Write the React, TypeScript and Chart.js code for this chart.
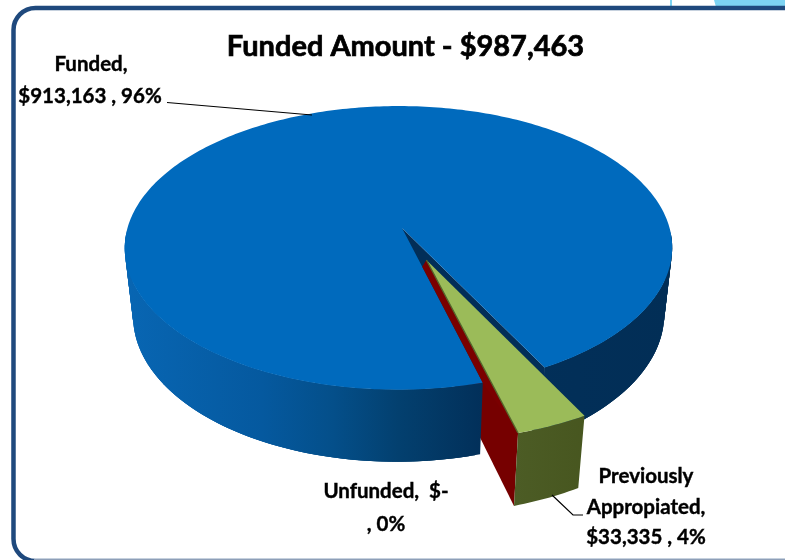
import React, { useEffect, useRef } from "react";
import { Chart, registerables } from "chart.js";

Chart.register(...registerables);

const categories = ["Funded", "Previously Appropiated", "Unfunded"];
const amounts = [913163, 33335, 0];
const explode = [0, 0.24, 0.24];
const wedgeScale = [1, 1.04, 1.04];
const titleText = "Funded Amount - $987,463";
const fundedLabel = ["Funded,", "$913,163 , 96%"];
const unfundedLabel = ["Unfunded,  $-", ", 0%"];
const previousLabel = ["Previously", "Appropiated,", "$33,335 , 4%"];
const FONT = "Lato, 'Open Sans', sans-serif";

const cam = { cx: 402, cy: 228, a: 271, b: 139, h: 69, k: 0.14, m: -0.0128, n: 0.03 };
const rad = (d: number) => (d * Math.PI) / 180;

function project(u: number, v: number, z: number): [number, number] {
  const d = 1 - cam.k * v - cam.m * u + cam.n * z;
  return [cam.cx + (cam.a * u) / d, cam.cy + (cam.b * v + cam.h * z) / d];
}

function poly(ctx: CanvasRenderingContext2D, pts: [number, number][], fill: any) {
  ctx.beginPath();
  pts.forEach((p, i) => (i ? ctx.lineTo(p[0], p[1]) : ctx.moveTo(p[0], p[1])));
  ctx.closePath();
  ctx.fillStyle = fill;
  ctx.fill();
}

function arcAngles(start: number, end: number) {
  const out: number[] = [];
  const n = Math.max(2, Math.ceil(Math.abs(end - start) / rad(1)));
  for (let i = 0; i <= n; i++) out.push(start + ((end - start) * i) / n);
  return out;
}

const pie3d = {
  id: "pie3d",
  beforeDatasetDraw(chart: any) {
    const ctx: CanvasRenderingContext2D = chart.ctx;
    const arcs = chart.getDatasetMeta(0).data.map((el: any) => el.getProps(["startAngle", "endAngle"], true));
    const at = (i: number) => {
      const s = arcs[i].startAngle;
      const e = arcs[i].endAngle;
      const mid = (arcs[1].startAngle + arcs[1].endAngle) / 2;
      return { s, e, ox: explode[i] * Math.cos(mid), oy: explode[i] * Math.sin(mid), r: wedgeScale[i] };
    };
    const rim = (a: number, sl: { ox: number; oy: number; r: number }, z: number) =>
      project(sl.r * Math.cos(a) + sl.ox, sl.r * Math.sin(a) + sl.oy, z);

    const blue = at(0);
    const green = at(1);
    const red = at(2);

    // red cut face of the pulled-out wedge
    poly(ctx, [rim(red.e, red, 0), rim(red.e, red, 1), project(red.ox, red.oy, 1), project(red.ox, red.oy, 0)], "#760000");

    // blue cut face
    poly(ctx, [project(0, 0, 0), rim(blue.e, blue, 0), rim(blue.e, blue, 1), project(0, 0, 1)], "#022e58");

    // blue wall: overlapping quads on the side facing the viewer only
    const wall = ctx.createLinearGradient(125, 0, 672, 0);
    wall.addColorStop(0, "#0866b3");
    wall.addColorStop(0.25, "#05599f");
    wall.addColorStop(0.38, "#044f8a");
    wall.addColorStop(0.5, "#03406f");
    wall.addColorStop(0.65, "#02305a");
    wall.addColorStop(1, "#022e56");
    const bl = arcAngles(blue.s, blue.e);
    for (let i = 0; i < bl.length - 1; i++) {
      const a0 = bl[i];
      const a1 = bl[Math.min(i + 3, bl.length - 1)];
      if (Math.sin(a0) < 0.02 || Math.sin(a1) < 0.02) continue;
      poly(ctx, [rim(a0, blue, 0), rim(a1, blue, 0), rim(a1, blue, 1), rim(a0, blue, 1)], wall);
    }

    // blue top
    poly(ctx, [project(0, 0, 0), ...bl.map((a) => rim(a, blue, 0))], "#006abd");

    // green wall
    const gr = arcAngles(green.s, green.e);
    const gw = ctx.createLinearGradient(515, 0, 590, 0);
    gw.addColorStop(0, "#4c5c25");
    gw.addColorStop(1, "#47561f");
    poly(ctx, [...gr.map((a) => rim(a, green, 0)), ...gr.slice().reverse().map((a) => rim(a, green, 1))], gw);

    // red sliver on top, between blue edge and the green wedge
    const bc = project(0, 0, 0);
    const be = rim(blue.s, blue, 0);
    poly(ctx, [[bc[0] + (be[0] - bc[0]) * 0.25, bc[1] + (be[1] - bc[1]) * 0.25], be, rim(red.e, red, 0), project(red.ox, red.oy, 0)], "#7a0000");

    // green top
    const gApex = project(green.ox, green.oy, 0);
    poly(ctx, [gApex, ...gr.map((a) => rim(a, green, 0))], "#9bbb59");
    const gEnd = rim(green.e, green, 0);
    ctx.strokeStyle = "#55662b";
    ctx.lineWidth = 1.4;
    ctx.beginPath();
    ctx.moveTo(gApex[0], gApex[1]);
    ctx.lineTo(gEnd[0], gEnd[1]);
    ctx.stroke();
    return false;
  },
  afterDraw(chart: any) {
    const ctx: CanvasRenderingContext2D = chart.ctx;
    ctx.save();
    ctx.strokeStyle = "#000";
    ctx.lineWidth = 1.2;
    ctx.beginPath();
    ctx.moveTo(167, 102.5);
    ctx.lineTo(312, 115);
    ctx.moveTo(552, 495);
    ctx.lineTo(573, 515);
    ctx.lineTo(583, 515);
    ctx.stroke();

    ctx.fillStyle = "#000";
    ctx.strokeStyle = "#000";
    ctx.textAlign = "center";
    ctx.textBaseline = "middle";

    // thicken the chart's own title to the reference's heavy weight
    const tb = chart.titleBlock;
    ctx.font = `bold 29px ${FONT}`;
    ctx.lineWidth = 0.7;
    ctx.strokeText(titleText, (tb.left + tb.right) / 2, tb.top + (29 * 1.2) / 2);

    ctx.lineWidth = 0.4;
    ctx.font = `bold 20.5px ${FONT}`;
    const put = (t: string, x: number, y: number) => {
      ctx.fillText(t, x, y);
      ctx.strokeText(t, x, y);
    };
    put(fundedLabel[0], 91, 64);
    put(fundedLabel[1], 90, 96);
    put(unfundedLabel[0], 386, 491);
    put(unfundedLabel[1], 386, 524);
    put(previousLabel[0], 646, 476);
    put(previousLabel[1], 646, 507);
    put(previousLabel[2], 646, 537);
    ctx.restore();
  },
  beforeDraw(chart: any) {
    const ctx: CanvasRenderingContext2D = chart.ctx;
    ctx.save();
    // slide frame and its corner decoration
    ctx.fillStyle = "#7dd3f2";
    ctx.beginPath();
    ctx.moveTo(714, 0);
    ctx.lineTo(785, 0);
    ctx.lineTo(785, 7);
    ctx.lineTo(716, 7);
    ctx.closePath();
    ctx.fill();
    ctx.fillRect(670, 0, 2, 6);
    ctx.strokeStyle = "#1f497d";
    ctx.lineWidth = 4.5;
    ctx.beginPath();
    ctx.roundRect(13.5, 8, 800, 553, 22);
    ctx.stroke();
    ctx.fillStyle = "#8e9fb8";
    ctx.fillRect(34, 559, 751, 1);
    ctx.restore();
  },
};

export default function App() {
  const ref = useRef<HTMLCanvasElement>(null);
  useEffect(() => {
    const chart = new Chart(ref.current!, {
      type: "pie",
      data: {
        labels: categories,
        datasets: [{ data: amounts, backgroundColor: ["#006abd", "#9bbb59", "#7a0000"], borderWidth: 0 }],
      },
      options: {
        responsive: false,
        animation: false,
        rotation: 165,
        layout: { padding: { left: 26, top: 29 } },
        plugins: {
          legend: { display: false },
          tooltip: { enabled: false },
          title: {
            display: true,
            text: titleText,
            color: "#000",
            font: { family: FONT, size: 29, weight: "bold" },
            padding: { top: 0, bottom: 10 },
          },
        },
      },
      plugins: [pie3d],
    } as any);
    return () => chart.destroy();
  }, []);
  return (
    <div style={{ position: "fixed", left: 0, top: 0 }}>
      <canvas ref={ref} width={785} height={560} style={{ display: "block" }} />
    </div>
  );
}
